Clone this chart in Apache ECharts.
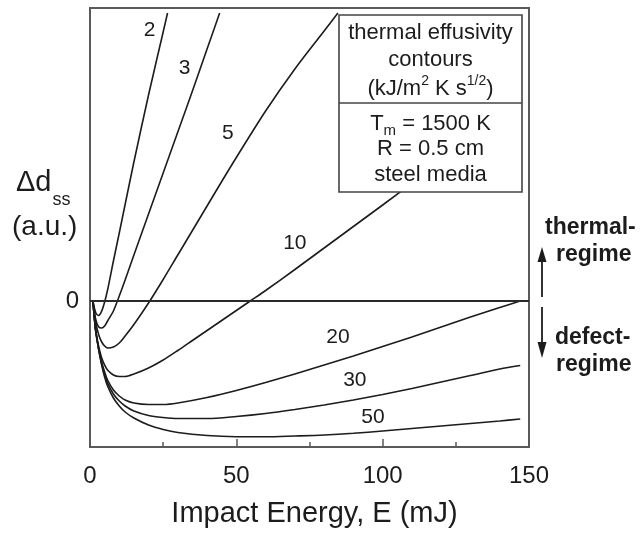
<!DOCTYPE html>
<html>
<head>
<meta charset="utf-8">
<script src="https://cdn.jsdelivr.net/npm/echarts@6/dist/echarts.min.js"></script>
<style>
  html, body { margin: 0; padding: 0; background: #fff; }
  #chart { width: 644px; height: 537px; }
</style>
</head>
<body>
<div id="chart"></div>
<script>
// Steady-state size change vs impact energy, one curve per thermal effusivity
const effusivity = ['2', '3', '5', '10', '20', '30', '50'];

const energy_2  = [1, 2, 3, 4, 5, 6, 8, 10, 12, 15, 20, 25, 26.5];
const dss_2     = [0, -0.12, -0.145, -0.10, -0.01, 0.11, 0.40, 0.68, 0.965, 1.39, 2.06, 2.69, 2.88];

const energy_3  = [1, 2, 3, 4, 5, 6, 8, 10, 12, 15, 20, 25, 30, 35, 40, 44.3];
const dss_3     = [0, -0.19, -0.26, -0.27, -0.25, -0.20, -0.10, 0.05, 0.21, 0.46, 0.87, 1.28, 1.69, 2.10, 2.52, 2.88];

const energy_5  = [1, 2, 3, 4, 5, 6, 8, 10, 12, 15, 20, 25, 30, 35, 40, 45, 50, 60, 70, 80, 84.7];
const dss_5     = [0, -0.22, -0.34, -0.41, -0.45, -0.47, -0.46, -0.42, -0.35, -0.235, -0.02, 0.215, 0.46, 0.705, 0.95, 1.195, 1.435, 1.90, 2.32, 2.70, 2.88];

const energy_10 = [1, 1.5, 2, 3, 4, 5, 6, 8, 10, 12, 15, 20, 25, 30, 35, 40, 45, 50, 55, 60, 70, 80, 90, 100, 110, 120, 130, 140, 147];
const dss_10    = [0, -0.17, -0.30, -0.46, -0.57, -0.64, -0.69, -0.74, -0.755, -0.755, -0.73, -0.67, -0.59, -0.495, -0.395, -0.295, -0.195, -0.095, 0.005, 0.105, 0.315, 0.53, 0.745, 0.96, 1.18, 1.40, 1.62, 1.84, 1.99];

const energy_20 = [1, 1.5, 2, 3, 4, 5, 6, 8, 10, 12, 15, 20, 25, 30, 40, 50, 60, 70, 80, 90, 100, 110, 120, 130, 140, 147];
const dss_20    = [0, -0.17, -0.31, -0.48, -0.61, -0.71, -0.79, -0.89, -0.95, -0.99, -1.02, -1.035, -1.035, -1.02, -0.965, -0.895, -0.815, -0.73, -0.64, -0.55, -0.455, -0.36, -0.26, -0.16, -0.065, 0.0];

const energy_30 = [1, 1.5, 2, 3, 4, 5, 6, 8, 10, 12, 15, 20, 25, 30, 40, 50, 60, 70, 80, 90, 100, 110, 120, 130, 140, 147];
const dss_30    = [0, -0.17, -0.31, -0.49, -0.63, -0.74, -0.82, -0.93, -1.00, -1.05, -1.10, -1.145, -1.165, -1.175, -1.175, -1.155, -1.125, -1.085, -1.04, -0.99, -0.935, -0.875, -0.81, -0.745, -0.68, -0.645];

const energy_50 = [1, 1.5, 2, 3, 4, 5, 6, 8, 10, 12, 15, 20, 25, 30, 40, 50, 60, 70, 80, 90, 100, 110, 120, 130, 140, 147];
const dss_50    = [0, -0.17, -0.31, -0.49, -0.64, -0.76, -0.85, -0.97, -1.05, -1.11, -1.17, -1.24, -1.285, -1.315, -1.345, -1.357, -1.358, -1.35, -1.34, -1.323, -1.30, -1.275, -1.25, -1.225, -1.20, -1.18];

// where each contour value is written, in data units (E, Δd)
const labelEnergy = [20.4, 32.3, 47.1, 70.0, 84.7, 90.5, 96.7];
const labelDss    = [2.71, 2.33, 1.68, 0.58, -0.36, -0.79, -1.16];

const xTicks = [0, 50, 100, 150];
const yTicks = [0];

const curves = [
  [energy_2, dss_2], [energy_3, dss_3], [energy_5, dss_5], [energy_10, dss_10],
  [energy_20, dss_20], [energy_30, dss_30], [energy_50, dss_50]
];

const FONT = '"Liberation Sans", Arial, Helvetica, sans-serif';
const INK = '#1c1c1c';

const chart = echarts.init(document.getElementById('chart'), null, { renderer: 'canvas' });

const lineSeries = curves.map(([e, d], i) => ({
  name: effusivity[i],
  type: 'line',
  data: e.map((v, k) => [v, d[k]]),
  showSymbol: false,
  smooth: 0.3,
  clip: true,
  lineStyle: { color: INK, width: 1.6 },
  z: 3
}));

// zero reference line
lineSeries.push({
  type: 'line',
  data: [],
  silent: true,
  markLine: {
    silent: true,
    symbol: ['none', 'none'],
    label: { show: false },
    lineStyle: { color: '#2a2a2a', width: 2, type: 'solid' },
    data: [{ yAxis: 0 }]
  }
});

// contour value labels
lineSeries.push({
  type: 'scatter',
  symbolSize: 0,
  silent: true,
  itemStyle: { opacity: 1, color: 'transparent' },
  data: labelEnergy.map((e, i) => ({ value: [e, labelDss[i]], name: effusivity[i] })),
  label: {
    show: true,
    position: 'inside',
    formatter: p => p.name,
    fontFamily: FONT,
    fontSize: 21,
    color: INK,
    opacity: 1
  },
  z: 4
});

chart.setOption({
  animation: false,
  backgroundColor: '#fff',
  grid: {
    left: 90, right: 115, top: 8, bottom: 90,
    show: true, borderColor: '#5a5a5a', borderWidth: 2, backgroundColor: 'transparent'
  },
  xAxis: {
    type: 'value',
    min: 0, max: 150, interval: 50,
    axisLine: { show: false, onZero: false },
    axisTick: { show: true, inside: true, length: 8, lineStyle: { color: '#5a5a5a', width: 1.5 } },
    minorTick: { show: true, splitNumber: 2, length: 5, lineStyle: { color: '#5a5a5a', width: 1.5 } },
    splitLine: { show: false },
    axisLabel: {
      margin: 17, fontFamily: FONT, fontSize: 24, color: INK,
      formatter: v => (xTicks.indexOf(v) >= 0 ? String(v) : '')
    },
    name: 'Impact Energy, E (mJ)',
    nameLocation: 'middle',
    nameGap: 52,
    nameTextStyle: { fontFamily: FONT, fontSize: 29, color: INK, padding: [0, 0, 0, 10] }
  },
  yAxis: {
    type: 'value',
    min: -1.46, max: 2.93,
    axisLine: { show: false, onZero: false },
    axisTick: { show: false },
    splitLine: { show: false },
    axisLabel: {
      customValues: yTicks,
      margin: 11, fontFamily: FONT, fontSize: 24, color: INK
    }
  },
  series: lineSeries,
  graphic: [
    // y-axis title
    {
      type: 'text', left: 16, top: 168, z: 100,
      style: {
        text: '{m|Δd}{s|ss}',
        rich: {
          m: { fontFamily: FONT, fontSize: 29, fill: INK, verticalAlign: 'bottom', lineHeight: 34 },
          s: { fontFamily: FONT, fontSize: 18, fill: INK, verticalAlign: 'bottom', lineHeight: 34, padding: [0, 0, -12, 1] }
        }
      }
    },
    {
      type: 'text', left: 12, top: 213, z: 100,
      style: { text: '(a.u.)', fontFamily: FONT, fontSize: 28, fill: INK }
    },
    // parameter box
    {
      type: 'rect', z: 100,
      shape: { x: 339, y: 15, width: 183, height: 177 },
      style: { fill: '#fff', stroke: '#444', lineWidth: 1.6 }
    },
    {
      type: 'line', z: 101,
      shape: { x1: 339, y1: 103, x2: 522, y2: 103 },
      style: { stroke: '#444', lineWidth: 1.6 }
    },
    {
      type: 'text', z: 101, x: 430.5, y: 33,
      style: { text: 'thermal effusivity', fontFamily: FONT, fontSize: 22, fill: INK, align: 'center', verticalAlign: 'middle' }
    },
    {
      type: 'text', z: 101, x: 430.5, y: 60,
      style: { text: 'contours', fontFamily: FONT, fontSize: 22, fill: INK, align: 'center', verticalAlign: 'middle' }
    },
    {
      type: 'text', z: 101, x: 430.5, y: 87,
      style: {
        text: '{n|(kJ/m}{p|2}{n| K s}{p|1/2}{n|)}',
        align: 'center', verticalAlign: 'middle',
        rich: {
          n: { fontFamily: FONT, fontSize: 22, fill: INK, lineHeight: 26, verticalAlign: 'bottom' },
          p: { fontFamily: FONT, fontSize: 14, fill: INK, lineHeight: 26, verticalAlign: 'top' }
        }
      }
    },
    {
      type: 'text', z: 101, x: 430.5, y: 124,
      style: {
        text: '{n|T}{b|m}{n| = 1500 K}',
        align: 'center', verticalAlign: 'middle',
        rich: {
          n: { fontFamily: FONT, fontSize: 22, fill: INK, lineHeight: 28, verticalAlign: 'middle' },
          b: { fontFamily: FONT, fontSize: 15, fill: INK, lineHeight: 10, verticalAlign: 'bottom' }
        }
      }
    },
    {
      type: 'text', z: 101, x: 430.5, y: 149,
      style: { text: 'R = 0.5 cm', fontFamily: FONT, fontSize: 22, fill: INK, align: 'center', verticalAlign: 'middle' }
    },
    {
      type: 'text', z: 101, x: 430.5, y: 175,
      style: { text: 'steel media', fontFamily: FONT, fontSize: 22, fill: INK, align: 'center', verticalAlign: 'middle' }
    },
    // regime annotations on the right
    {
      type: 'text', z: 101, x: 545, y: 228,
      style: { text: 'thermal-', fontFamily: FONT, fontSize: 23, fontWeight: 'bold', fill: INK, verticalAlign: 'middle' }
    },
    {
      type: 'text', z: 101, x: 556, y: 255,
      style: { text: 'regime', fontFamily: FONT, fontSize: 23, fontWeight: 'bold', fill: INK, verticalAlign: 'middle' }
    },
    {
      type: 'text', z: 101, x: 555, y: 338,
      style: { text: 'defect-', fontFamily: FONT, fontSize: 23, fontWeight: 'bold', fill: INK, verticalAlign: 'middle' }
    },
    {
      type: 'text', z: 101, x: 556, y: 365,
      style: { text: 'regime', fontFamily: FONT, fontSize: 23, fontWeight: 'bold', fill: INK, verticalAlign: 'middle' }
    },
    {
      type: 'line', z: 101,
      shape: { x1: 542, y1: 297, x2: 542, y2: 260 },
      style: { stroke: INK, lineWidth: 1.8 }
    },
    {
      type: 'polygon', z: 101,
      shape: { points: [[542, 247], [537.5, 262], [546.5, 262]] },
      style: { fill: INK }
    },
    {
      type: 'line', z: 101,
      shape: { x1: 542, y1: 307, x2: 542, y2: 344 },
      style: { stroke: INK, lineWidth: 1.8 }
    },
    {
      type: 'polygon', z: 101,
      shape: { points: [[542, 358], [537.5, 342], [546.5, 342]] },
      style: { fill: INK }
    }
  ]
});
</script>
</body>
</html>
